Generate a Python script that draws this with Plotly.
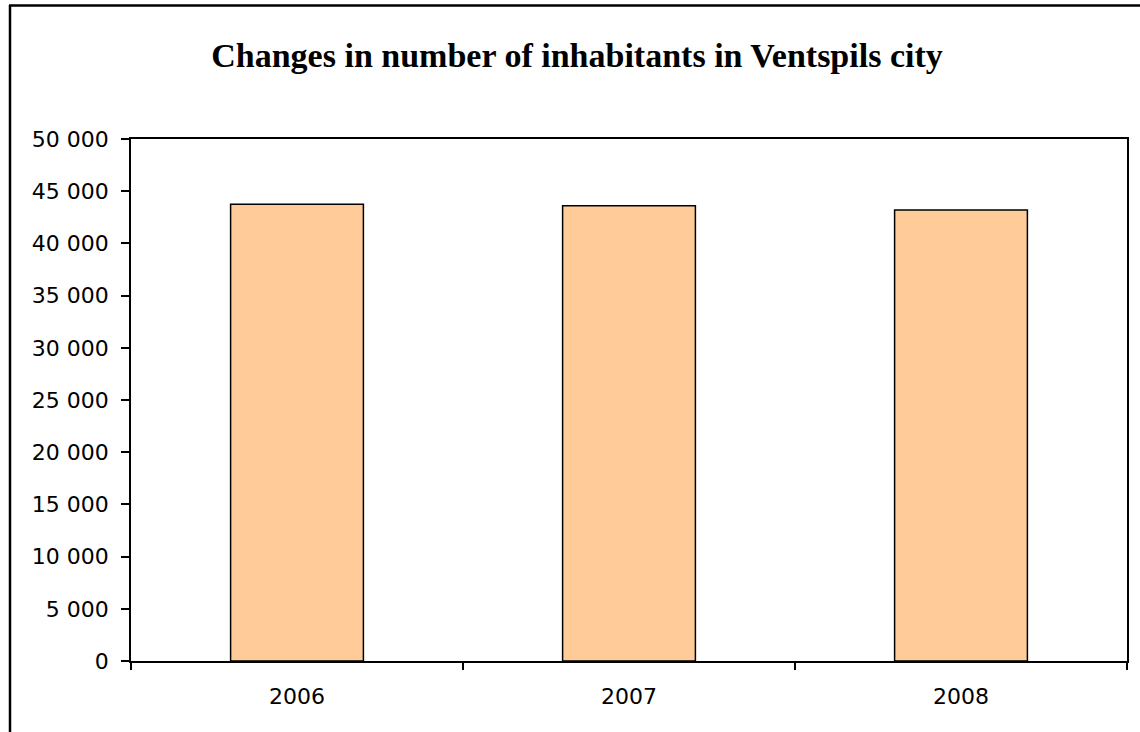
import plotly.graph_objects as go

years = ["2006", "2007", "2008"]
inhabitants = [43750, 43610, 43200]
y_ticks = [0, 5000, 10000, 15000, 20000, 25000, 30000, 35000, 40000, 45000, 50000]

W, H = 1140, 732
L, R, T, B = 131, 13, 139, 71
pw, ph = W - L - R, H - T - B


def px_x(x):
    return (x - L) / pw


def px_y(y):
    return (H - B - y) / ph


fig = go.Figure()

fig.add_trace(
    go.Bar(
        x=years,
        y=inhabitants,
        marker=dict(color="#FFCC99", line=dict(color="black", width=1.5)),
        width=0.4,
    )
)

fig.update_layout(
    width=W,
    height=H,
    margin=dict(l=L, r=R, t=T, b=B),
    paper_bgcolor="white",
    plot_bgcolor="white",
    showlegend=False,
    separators=". ",
    font=dict(family="DejaVu Sans", size=22, color="black"),
    title=dict(
        text="<b>Changes in number of inhabitants in Ventspils city</b>",
        font=dict(family="Liberation Serif", size=34, color="black"),
        x=577 / W,
        xref="container",
        y=1 - 55 / H,
        yref="container",
        xanchor="center",
        yanchor="middle",
    ),
    xaxis=dict(
        type="category",
        showline=True,
        linecolor="black",
        linewidth=1.5,
        mirror=True,
        ticks="outside",
        tickson="boundaries",
        ticklen=7,
        tickcolor="black",
        tickwidth=1.5,
        showgrid=False,
        ticklabelstandoff=15,
    ),
    yaxis=dict(
        range=[0, 50000],
        tickvals=y_ticks,
        tickformat=",d",
        showline=True,
        linecolor="black",
        linewidth=1.5,
        mirror=True,
        ticks="outside",
        ticklen=8,
        tickcolor="black",
        tickwidth=1.5,
        showgrid=False,
        zeroline=False,
        ticklabelstandoff=8,
    ),
    shapes=[
        dict(
            type="line", xref="paper", yref="paper",
            x0=px_x(10), x1=px_x(10), y0=px_y(H + 5), y1=px_y(5),
            line=dict(color="black", width=2.5),
        ),
        dict(
            type="line", xref="paper", yref="paper",
            x0=px_x(9), x1=px_x(W + 5), y0=px_y(5.5), y1=px_y(5.5),
            line=dict(color="black", width=2.5),
        ),
    ],
)

# the page has an 8px body margin by default; drop it so the figure sits at 0,0
fig.write_html(
    "out.html",
    config={"displayModeBar": False},
    post_script="document.body.style.margin='0'; document.body.style.overflow='hidden';",
)
